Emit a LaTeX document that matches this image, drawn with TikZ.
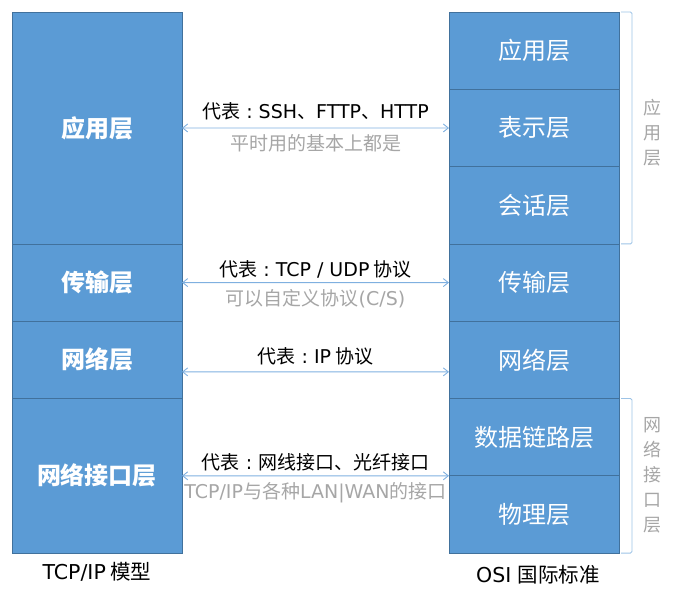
\documentclass[tikz,border=0pt]{standalone}
\usepackage{fontspec}
\setmainfont{Noto Sans CJK SC}
\newfontfamily\lat{DejaVu Sans}
\usepackage{tikz}
\usepackage{xcolor}
\usetikzlibrary{
	arrows.meta,
	positioning,
	calc
}

\definecolor{layerblue}{HTML}{5B9BD5}
\definecolor{layeredge}{HTML}{41719C}
\definecolor{linkblue}{HTML}{7FB0E0}
\definecolor{bracketblue}{HTML}{9DC3E6}
\definecolor{notegray}{HTML}{A6A6A6}
\newcommand{\repsep}{{\lat\ :\ }}

\begin{document}
\begin{tikzpicture}[
            x=1pt, y=-1pt,
            node distance=0pt and 0pt,
            layer/.style={
                draw=layeredge,
                fill=layerblue,
                line width=0.8pt,
                outer sep=0pt,
                minimum width=170pt,
                minimum height=77.3pt,
                text=white,
                font=\fontsize{24}{28}\selectfont
            },
            tcplayer/.style={layer,font=\fontsize{24}{28}\selectfont\bfseries},
            tag/.style={font=\fontsize{19}{22}\selectfont,inner sep=4pt},
            note/.style={font=\fontsize{19}{22}\selectfont,text=notegray,inner sep=4pt},
            side/.style={font=\fontsize{18}{25}\selectfont,text=notegray,align=center},
            caption/.style={font=\fontsize{20.5}{24}\selectfont},
            link/.style={{Straight Barb[length=5pt,width=8pt]}-{Straight Barb[length=5pt,width=8pt]},draw=linkblue,line width=0.9pt},
            bracket/.style={draw=bracketblue,line width=0.9pt,rounded corners=1.5pt}
        ]
            \useasboundingbox (0,0) rectangle (681,595);

            % TCP/IP model
            \node[tcplayer,minimum height=231.9pt,anchor=north west] (app) at (12,12) {应用层};
            \node[tcplayer,below=of app] (trans) {传输层};
            \node[tcplayer,below=of trans] (net) {网络层};
            \node[tcplayer,minimum height=154.6pt,below=of net] (iface) {网络接口层};

            % OSI model
            \node[layer,anchor=north west] (oapp) at (449,12) {应用层};
            \node[layer,below=of oapp] (opres) {表示层};
            \node[layer,below=of opres] (osess) {会话层};
            \node[layer,below=of osess] (otrans) {传输层};
            \node[layer,below=of otrans] (onet) {网络层};
            \node[layer,below=of onet] (olink) {数据链路层};
            \node[layer,below=of olink] (ophys) {物理层};

            % correspondences
            \draw[link] (app.east) -- node[above=3.5pt,tag] {代表\repsep{\lat SSH}、{\lat FTTP}、{\lat HTTP}}
                node[below=2pt,note] {平时用的基本上都是} (opres.west);
            \draw[link] (trans.east) -- node[above,tag] {代表\repsep{\lat TCP / UDP} 协议}
                node[below=2pt,note] {可以自定义协议{\lat (C/S)}} (otrans.west);
            \draw[link] ([yshift=-12pt]net.east) -- node[above=2pt,tag] {代表\repsep{\lat IP} 协议}
                ([yshift=-12pt]onet.west);
            \draw[link] (iface.east) -- node[above=0pt,tag] {代表\repsep 网线接口、光纤接口}
                node[below=2pt,note,inner xsep=0pt] {{\lat TCP/IP}与各种{\lat LAN|WAN}的接口} (olink.south west);

            % groups
            \draw[bracket] ([xshift=2pt]oapp.north east) -- ++(11,0) |- ([xshift=2pt]osess.south east);
            \draw[bracket] ([xshift=2pt]olink.north east) -- ++(11,0) |- ([xshift=2pt]ophys.south east);
            \node[side] (gapp) at (652,133) {应\\用\\层};
            \node[side] (giface) at (652,475) {网\\络\\接\\口\\层};

            \node[caption,below=6pt of iface] (tcpcap) {{\lat TCP/IP} 模型};
            \node[caption,below=9pt of ophys,xshift=4pt] (osicap) {{\lat OSI\ }国际标准};
        \end{tikzpicture}
\end{document}
